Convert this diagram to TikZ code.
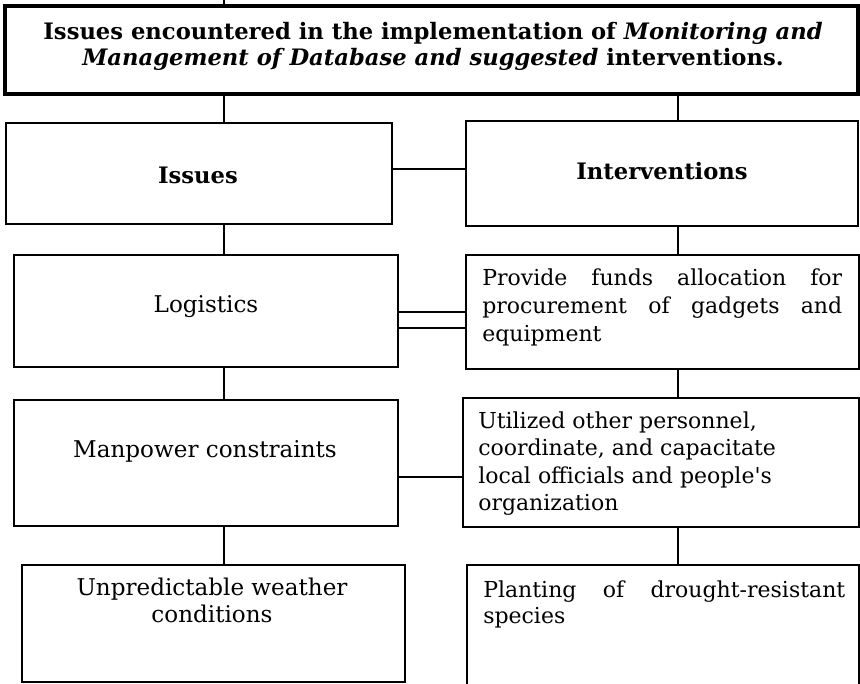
\documentclass[tikz,border=0pt]{standalone}
\usepackage{fontspec}
\setmainfont{DejaVu Serif}
\usetikzlibrary{fit}
\begin{document}
\begin{tikzpicture}[x=0.75pt,y=-0.75pt,
  box/.style={draw, inner sep=0pt, line width=1.1pt},
  headbox/.style={box, line width=1.5pt},
  titlebox/.style={box, line width=2.3pt},
  conn/.style={line width=1pt},
  lconn/.style={line width=2.2pt},
  rconn/.style={line width=1.4pt},
  body/.style={font=\fontsize{16.5}{21}\selectfont, inner sep=0pt},
  lbody/.style={font=\fontsize{17.3}{20.3}\selectfont, inner sep=0pt},
  head/.style={font=\bfseries\fontsize{17}{19.5}\selectfont, inner sep=0pt}]
\useasboundingbox (0,0) rectangle (860,683);
\clip (0,0) rectangle (860,683);
% boxes
\node[titlebox, fit={(5,6) (858,94)}] (title) {};
\node[headbox, fit={(6,123) (392,224)}] (issues) {};
\node[headbox, fit={(466,121) (858,226)}] (interv) {};
\node[box, fit={(14,255) (398,367)}] (logi) {};
\node[box, fit={(466,255) (859,369)}] (prov) {};
\node[box, fit={(14,400) (398,526)}] (manp) {};
\node[box, fit={(463,398) (859,527)}] (util) {};
\node[box, fit={(22,565) (405,682)}] (weat) {};
\node[box, fit={(467,565) (859,700)}] (plant) {};
% texts
\node[head, align=center] (titletext) at (433,46)
  {Issues encountered in the implementation of \textit{Monitoring and}\\
   \textit{Management of Database and suggested} interventions.};
\node[head] (issuestext) at (198,175) {Issues};
\node[head] (intervtext) at (662,171.5) {Interventions};
\node[lbody] (logitext) at (206,307) {Logistics};
\node[body, align=left, anchor=west] (provtext) at (482,307.3)
  {\makebox[270pt][s]{Provide funds allocation for}\\
   \makebox[270pt][s]{procurement of gadgets and}\\
   equipment};
\node[lbody] (manptext) at (205,451) {Manpower constraints};
\node[body, align=left, anchor=west, font=\fontsize{16.5}{20.6}\selectfont] (utiltext) at (478,463.5)
  {Utilized other personnel,\\
   coordinate, and capacitate\\
   local officials and people\textquotesingle s\\
   organization};
\node[lbody, align=center] (weattext) at (212,600)
  {Unpredictable weather\\ conditions};
\node[body, align=left, anchor=west, font=\fontsize{16.5}{19.5}\selectfont] (planttext) at (483,604)
  {\makebox[271.5pt][s]{Planting of drought-resistant}\\
   species};
% connectors
\coordinate (cl) at (224,0);
\coordinate (cr) at (678,0);
\draw[lconn] (cl) -- (title.north -| cl);
\draw[lconn] (title.south -| cl) -- (issues.north -| cl);
\draw[rconn] (title.south -| cr) -- (interv.north -| cr);
\draw[conn] (issues.east |- 0,169) -- (interv.west |- 0,169);
\draw[lconn] (issues.south -| cl) -- (logi.north -| cl);
\draw[rconn] (interv.south -| cr) -- (prov.north -| cr);
\draw[conn] (logi.east |- 0,312) -- (prov.west |- 0,312);
\draw[conn] (logi.east |- 0,328) -- (prov.west |- 0,328);
\draw[lconn] (logi.south -| cl) -- (manp.north -| cl);
\draw[rconn] (prov.south -| cr) -- (util.north -| cr);
\draw[conn] (manp.east |- 0,477) -- (util.west |- 0,477);
\draw[lconn] (manp.south -| cl) -- (weat.north -| cl);
\draw[rconn] (util.south -| cr) -- (plant.north -| cr);
\end{tikzpicture}
\end{document}
